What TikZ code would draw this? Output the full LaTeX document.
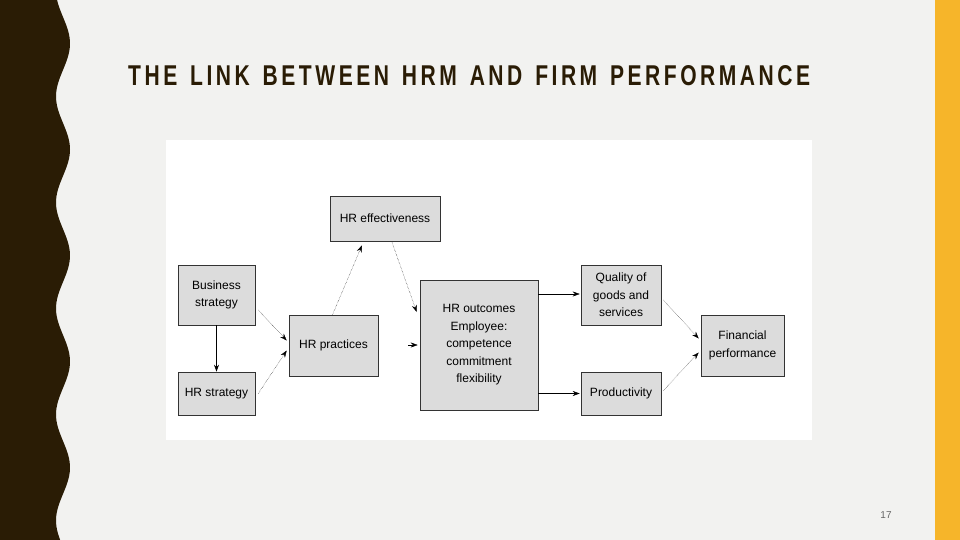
\documentclass[tikz,border=0pt]{standalone}
\usepackage{fontspec}
\setmainfont{Liberation Sans}
\usetikzlibrary{arrows.meta}
\definecolor{bg}{HTML}{F2F2F0}
\definecolor{dark}{HTML}{2A1C05}
\definecolor{gold}{HTML}{F6B52A}
\definecolor{boxfill}{HTML}{DCDCDC}
\begin{document}
\begin{tikzpicture}[x=1pt,y=-1pt,
  bx/.style={draw=black!80,line width=0.6pt,fill=boxfill,inner sep=0pt,align=center,font=\fontsize{12}{17.5}\selectfont},
  ln/.style={line width=0.4pt,-{Stealth[length=7pt,width=5pt]}},
  dl/.style={ln,densely dotted}]
\useasboundingbox (0,0) rectangle (960,540);
\fill[bg] (0,0) rectangle (960,540);
\fill[gold] (935,0) rectangle (960,540);
\fill[dark] (0,0) -- plot[domain=0:540,samples=160,smooth] ({63+7*sin((\x-17)/106*360)},\x) -- (0,540) -- cycle;
\node[anchor=west,inner sep=0,text=dark] (title) at (128,76) {\resizebox{682pt}{20pt}{\bfseries T\,H\,E\, \,L\,I\,N\,K\, \,B\,E\,T\,W\,E\,E\,N\, \,H\,R\,M\, \,A\,N\,D\, \,F\,I\,R\,M\, \,P\,E\,R\,F\,O\,R\,M\,A\,N\,C\,E}};
\node[text=black!60,font=\fontsize{10}{12}\selectfont] (pg) at (886,515) {17};
\fill[white] (166,140) rectangle (812,440);
\node[bx,minimum width=110pt,minimum height=45pt] (eff) at (385,218.5) {HR effectiveness};
\node[bx,minimum width=77pt,minimum height=60pt] (bs) at (216.5,295) {Business\\strategy};
\node[bx,minimum width=77pt,minimum height=43pt] (hs) at (216.5,393.5) {HR strategy};
\node[bx,minimum width=89pt,minimum height=61pt] (hp) at (333.5,345.5) {HR practices};
\node[bx,minimum width=118pt,minimum height=130pt] (ho) at (479,345) {HR outcomes\\Employee:\\competence\\commitment\\flexibility};
\node[bx,minimum width=80pt,minimum height=60pt] (q) at (621,295) {Quality of\\goods and\\services};
\node[bx,minimum width=80pt,minimum height=43pt] (pr) at (621,393.5) {Productivity};
\node[bx,minimum width=83pt,minimum height=61pt] (fp) at (742.5,345.5) {Financial\\performance};
\draw[ln,line width=0.6pt] (bs) -- (hs);
\draw[dl] ([shift={(3,15)}]bs.east) -- ([shift={(-2,-5)}]hp.west);
\draw[dl] ([shift={(3,0)}]hs.east) -- ([shift={(-2,5)}]hp.west);
\draw[dl] ([shift={(-1,0)}]hp.north) -- ([shift={(-23,4)}]eff.south);
\draw[dl] ([shift={(7,1)}]eff.south) -- ([shift={(-3,-33)}]ho.west);
\coordinate (hpa) at (408,345);
\draw[ln] (hpa) -- ([xshift=-2pt]ho.west);
\draw[ln] ([shift={(0,-51)}]ho.east) -- ([shift={(-1,-1)}]q.west);
\draw[ln] ([shift={(0,48.5)}]ho.east) -- ([shift={(-1,0)}]pr.west);
\draw[dl] ([shift={(2,5)}]q.east) -- ([shift={(-2,-7)}]fp.west);
\draw[dl] ([shift={(2,-3)}]pr.east) -- ([shift={(-2,7)}]fp.west);
\end{tikzpicture}
\end{document}
